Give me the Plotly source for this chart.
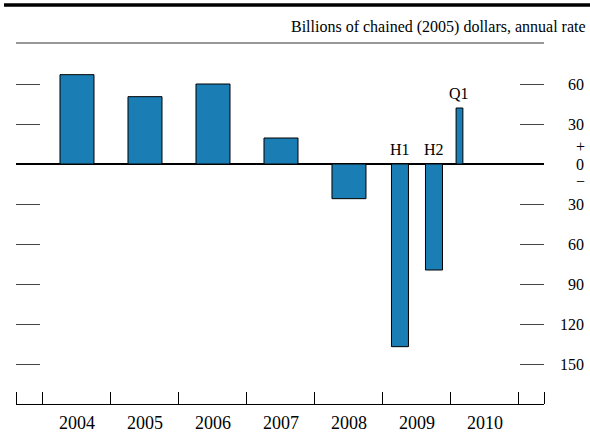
import plotly.graph_objects as go

# ---- data ----
period_start = [2004, 2005, 2006, 2007, 2008, 2009, 2009.5, 2010]
period_end = [2005, 2006, 2007, 2008, 2009, 2009.5, 2010, 2010.25]
values = [67, 50.5, 60, 19.5, -26, -137, -79.5, 42]
bar_labels = ["", "", "", "", "", "H1", "H2", "Q1"]
years = [2004, 2005, 2006, 2007, 2008, 2009, 2010]
y_ticks = [60, 30, -30, -60, -90, -120, -150]
units = "Billions of chained (2005) dollars, annual rate"

# ---- styles ----
bar_widths = [0.5, 0.5, 0.5, 0.5, 0.5, 0.25, 0.25, 0.1]
BLUE = "#1a7db4"
FONT = "Liberation Serif"
X_RANGE = [2003.603, 2011.368]
Y_RANGE = [-180, 90.75]

centers = [(s + e) / 2 for s, e in zip(period_start, period_end)]
boundaries = years + [years[-1] + 1]

fig = go.Figure()
fig.add_trace(go.Bar(
    x=centers, y=values, width=bar_widths,
    marker=dict(color=BLUE, line=dict(color="black", width=1)),
    hoverinfo="skip",
))

annotations = []
for c, v, lab in zip(centers, values, bar_labels):
    if lab:
        annotations.append(dict(
            x=c, y=max(v, 0), xref="x", yref="y", text=lab, showarrow=False,
            yanchor="bottom", yshift=4, font=dict(family=FONT, size=16, color="black"),
        ))
for t in y_ticks:
    annotations.append(dict(
        x=1, xref="paper", y=t, yref="y", text=str(abs(t)), showarrow=False,
        xanchor="right", xshift=42, font=dict(family=FONT, size=16, color="black"),
    ))
for txt, sh in [("+", 18), ("0", 0), ("\u2212", -17)]:
    annotations.append(dict(
        x=1, xref="paper", y=0, yref="y", text=txt, showarrow=False,
        xanchor="center", xshift=36, yshift=sh, font=dict(family=FONT, size=16, color="black"),
    ))
annotations.append(dict(
    x=1.0833, xref="paper", y=1.043, yref="paper", text=units, showarrow=False,
    xanchor="right", yanchor="middle", font=dict(family=FONT, size=16, color="black"),
))

shapes = [
    dict(type="line", xref="paper", yref="paper", x0=-0.0227, x1=1.09, y0=1.105, y1=1.105,
         line=dict(color="black", width=3.5)),
    dict(type="line", xref="paper", yref="paper", x0=0, x1=1, y0=1, y1=1,
         line=dict(color="#333", width=1)),
]

fig.update_layout(
    width=590, height=432,
    margin=dict(l=16, r=46, t=43, b=28),
    paper_bgcolor="white", plot_bgcolor="white",
    showlegend=False,
    font=dict(family=FONT, size=16, color="black"),
    annotations=annotations,
    shapes=shapes,
    xaxis=dict(
        range=X_RANGE, showgrid=False, zeroline=False, automargin=False,
        showline=True, linecolor="black", linewidth=1,
        tickvals=[y + 0.5 for y in years], ticktext=[str(y) for y in years],
        ticks="", tickfont=dict(family=FONT, size=18, color="black"),
        ticklabelstandoff=2,
        minor=dict(tickvals=[X_RANGE[0]] + boundaries + [X_RANGE[1]], ticks="inside",
                   ticklen=12, tickcolor="black", tickwidth=1, showgrid=False),
    ),
    yaxis=dict(
        range=Y_RANGE, showgrid=False, showline=False, automargin=False,
        zeroline=True, zerolinecolor="black", zerolinewidth=1.5,
        tickvals=y_ticks, ticks="inside", ticklen=24, tickcolor="#444", tickwidth=1,
        mirror="ticks", showticklabels=False,
    ),
)

fig.write_html("out.html", config={"displayModeBar": False},
               post_script="document.body.style.margin='0';")
